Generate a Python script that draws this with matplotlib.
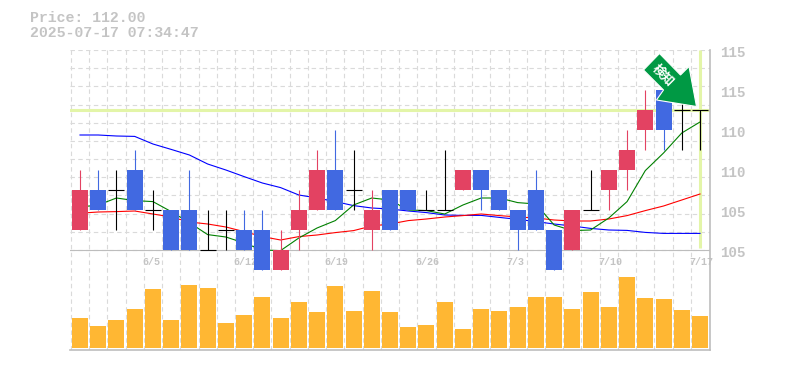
import numpy as np
import matplotlib
matplotlib.use("Agg")
import matplotlib.pyplot as plt
from matplotlib.patches import Polygon
from matplotlib.transforms import blended_transform_factory

plt.rcParams['font.family'] = ['Liberation Mono', 'Noto Sans CJK JP', 'DejaVu Sans']

# daily prices
opens = [106, 108, 108, 109, 107, 107, 107, 105, 106, 106, 106, 104, 106, 107, 109, 108, 106, 108,
         108, 107, 107, 108, 109, 108, 107, 108, 106, 105, 107, 108, 109, 111, 113, 112, 112]
closes = [108, 107, 108, 107, 107, 105, 105, 105, 106, 105, 104, 105, 107, 109, 107, 108, 107, 106,
          107, 107, 107, 109, 108, 107, 106, 106, 104, 107, 107, 109, 110, 112, 111, 112, 112]
highs = [109, 109, 109, 110, 108, 107, 109, 107, 107, 107, 107, 106, 108, 110, 111, 110, 108, 108,
         108, 108, 110, 109, 109, 108, 107, 109, 106, 107, 109, 109, 111, 113, 113, 113, 112]
lows = [106, 107, 106, 107, 106, 105, 105, 105, 105, 105, 104, 104, 105, 107, 107, 107, 105, 106,
        107, 107, 107, 108, 107, 107, 105, 106, 104, 105, 107, 107, 108, 110, 110, 110, 110]
ma5 = [107.15, 107.25, 107.6, 107.47, 107.42, 106.92, 106.37, 105.77, 105.65, 105.35, 105.0, 104.97,
       105.6, 106.1, 106.47, 107.25, 107.6, 107.5, 107.0, 106.97, 106.8, 107.25, 107.6, 107.6, 107.37,
       107.3, 106.25, 105.97, 106.0, 106.6, 107.42, 108.97, 109.85, 110.85, 111.4]
ma25 = [106.84, 106.9, 106.92, 106.95, 106.8, 106.65, 106.4, 106.3, 106.15, 105.92, 105.67, 105.5,
        105.67, 105.75, 105.87, 105.97, 106.2, 106.3, 106.47, 106.55, 106.65, 106.72, 106.8, 106.72,
        106.65, 106.6, 106.5, 106.45, 106.45, 106.55, 106.72, 106.97, 107.2, 107.5, 107.8]
ma75 = [110.75, 110.75, 110.7, 110.68, 110.3, 110.03, 109.75, 109.3, 109.0, 108.67, 108.35, 108.12,
        107.75, 107.6, 107.42, 107.22, 107.1, 107.05, 106.95, 106.87, 106.75, 106.73, 106.73, 106.63,
        106.53, 106.42, 106.3, 106.2, 106.08, 106.0, 105.98, 105.88, 105.83, 105.83, 105.83]
volume = [30, 22, 28, 39, 59, 28, 63, 60, 25, 33, 51, 30, 46, 36, 62, 37, 57, 36,
          21, 23, 46, 19, 39, 37, 41, 51, 51, 39, 56, 41, 71, 50, 49, 38, 32]

date_pos = [4, 9, 14, 19, 24, 29, 34]
date_labels = ['6/5', '6/12', '6/19', '6/26', '7/3', '7/10', '7/17']
price_pos = [114.85, 112.85, 110.85, 108.85, 106.85, 104.85]
price_labels = ['115', '115', '110', '110', '105', '105']
last_price = 112

W, H = 785, 370
UP = '#E34262'
DOWN = '#4169E1'
GRID = '#dadada'
FRAME = '#bdbdbd'
TEXT = '#c4c4c4'
HILITE = '#E3F5A8'
PX = 0.8

fig = plt.figure(figsize=(W / 100, H / 100), dpi=100)
ax = fig.add_axes([70 / W, 1 - 350 / H, 640 / W, 300 / H])
vol = fig.add_axes([70 / W, 1 - 348 / H, 640 / W, 100 / H], sharex=ax)
vol.patch.set_alpha(0)
xs = np.arange(len(opens))
ax.set_xlim(-0.548, 34.548)
ax.set_ylim(100, 115)
vol.set_ylim(0, 100)
vol.axis('off')

ax.set_xticks(xs - 0.5)
ax.set_yticks(np.linspace(105, 115, 12))
ax.tick_params(length=0, labelbottom=False, labelleft=False)
ax.grid(True, color=GRID, lw=PX, linestyle=(0, (4, 3)))
ax.set_axisbelow(True)
ax.spines['top'].set_visible(False)
ax.spines['left'].set_visible(False)
for s in ['right', 'bottom']:
    ax.spines[s].set_color(FRAME)
    ax.spines[s].set_linewidth(1.2)
ax.axhline(105, color=FRAME, lw=PX, zorder=1)

ax.axhline(last_price, color=HILITE, lw=2.2, zorder=1.5)
ax.plot([34, 34], [105.1, 115], color=HILITE, lw=2.2, zorder=1.5, solid_capstyle='butt')

ax.plot(xs, ma75, color='#0000ff', lw=PX, zorder=2)
ax.plot(xs, ma25, color='#ff0000', lw=PX, zorder=2)
ax.plot(xs, ma5, color='#008000', lw=PX, zorder=2)

# candles
for i in xs:
    o, c = opens[i], closes[i]
    col = 'black' if o == c else (UP if c > o else DOWN)
    ax.plot([i, i], [lows[i], highs[i]], color=col, lw=PX, zorder=3, solid_capstyle='butt')
    if o == c:
        ax.plot([i - 0.44, i + 0.44], [o, o], color='black', lw=PX, zorder=3, solid_capstyle='butt')
    else:
        ax.bar(i, abs(c - o), bottom=min(o, c), width=0.88, color=col, lw=0, zorder=3)

vol.bar(xs, volume, width=0.88, color='#FFB733', lw=0)

tr = blended_transform_factory(fig.transFigure, ax.transData)
for p, s in zip(price_pos, price_labels):
    ax.text(720 / W, p, s, transform=tr, color=TEXT, fontsize=10.2, fontweight='bold', va='center', ha='left')
for p, s in zip(date_pos, date_labels):
    ax.text(p - 0.6, 104.42, s, color=TEXT, fontsize=7.2, fontweight='bold', va='center', ha='left',
            clip_on=False, zorder=1.2)

fig.text(30 / W, 1 - 18 / H, 'Price: 112.00', color=TEXT, fontsize=10.7, fontweight='bold', va='center')
fig.text(30 / W, 1 - 33 / H, '2025-07-17 07:34:47', color=TEXT, fontsize=10.7, fontweight='bold', va='center')

# signal arrow, pixel positions
arrow = [(659.5, 53.5), (643.5, 70), (663.5, 90), (656.5, 100), (696.5, 106.5), (689, 66.5), (680.5, 75)]
fig.add_artist(Polygon([(x / W, 1 - y / H) for x, y in arrow], closed=True, transform=fig.transFigure,
                       facecolor='#009944', edgecolor='white', lw=0.8, zorder=10))
fig.text(663 / W, 1 - 75 / H, '検知', color='white', fontsize=9, fontweight='bold', rotation=-45,
         rotation_mode='anchor', ha='center', va='center', zorder=11, family=['Noto Sans CJK JP'])

fig.savefig('out.png', dpi=100)
